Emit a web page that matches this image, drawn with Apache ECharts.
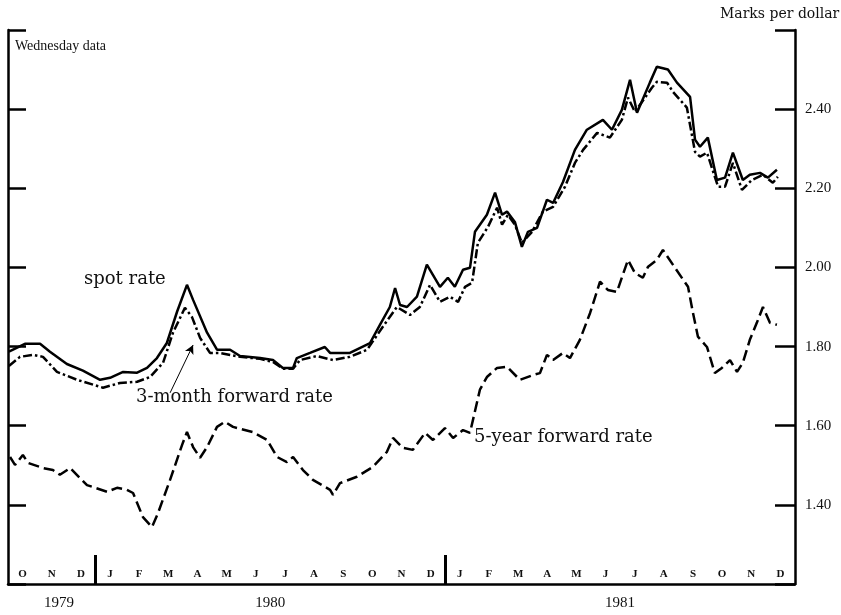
<!DOCTYPE html>
<html>
<head>
<meta charset="utf-8">
<script src="https://cdn.jsdelivr.net/npm/echarts@6/dist/echarts.min.js"></script>
<style>
html, body { margin: 0; background: #fff; }
#main { width: 841px; height: 615px; }
</style>
</head>
<body>
<div id="main"></div>
<script>
// x = months since 1 Oct 1979, y = marks per dollar (Wednesday data)
var monthLabels = ['O','N','D','J','F','M','A','M','J','J','A','S','O','N','D','J','F','M','A','M','J','J','A','S','O','N','D'];
var yearLabels = ['1979', '1980', '1981'];
var yearTickAt = [3, 15];        // month index where a new year starts
var yearLabelAt = [1.75, 9, 21];  // where the year captions sit

var spotX = [0.03,0.58,1.10,1.44,2.02,2.57,3.16,3.50,3.95,4.43,4.77,5.11,5.45,5.80,6.14,6.35,6.83,7.17,7.62,7.96,8.65,9.09,9.43,9.78,9.91,10.36,10.87,11.05,11.73,12.42,12.76,13.10,13.28,13.45,13.69,14.03,14.37,14.82,15.09,15.33,15.61,15.85,16.02,16.43,16.71,16.95,17.12,17.39,17.63,17.84,18.15,18.49,18.70,19.04,19.45,19.86,20.41,20.72,21.06,21.34,21.58,22.02,22.26,22.64,22.95,23.40,23.57,23.74,24.01,24.32,24.60,24.87,25.21,25.45,25.80,26.07,26.38];
var spotY = [1.787,1.807,1.807,1.787,1.756,1.739,1.716,1.721,1.736,1.734,1.746,1.771,1.809,1.888,1.956,1.918,1.835,1.792,1.792,1.776,1.771,1.766,1.746,1.746,1.771,1.784,1.799,1.784,1.784,1.809,1.855,1.900,1.948,1.905,1.900,1.926,2.007,1.951,1.974,1.951,1.994,1.999,2.090,2.133,2.189,2.133,2.141,2.115,2.052,2.090,2.100,2.171,2.163,2.216,2.297,2.348,2.373,2.348,2.398,2.474,2.391,2.467,2.507,2.500,2.467,2.431,2.323,2.305,2.328,2.221,2.227,2.290,2.221,2.234,2.239,2.227,2.247];

var fwd3mX = [0.03,0.41,0.86,1.20,1.68,2.37,3.26,3.84,4.43,4.87,5.32,5.66,6.07,6.31,6.59,6.93,7.27,7.96,8.65,9.09,9.43,9.78,10.02,10.60,11.15,11.73,12.32,12.86,13.34,13.79,14.13,14.48,14.82,15.16,15.44,15.68,15.92,16.12,16.47,16.78,16.95,17.15,17.39,17.63,17.98,18.35,18.70,19.11,19.45,19.73,20.21,20.65,21.06,21.27,21.51,22.09,22.26,22.61,22.81,23.29,23.57,23.74,23.98,24.36,24.60,24.87,25.18,25.52,25.90,26.24,26.41];
var fwd3mY = [1.751,1.774,1.779,1.774,1.736,1.716,1.696,1.708,1.711,1.723,1.759,1.835,1.898,1.875,1.822,1.784,1.784,1.774,1.769,1.761,1.744,1.744,1.766,1.776,1.766,1.774,1.792,1.850,1.900,1.880,1.900,1.956,1.913,1.926,1.913,1.951,1.961,2.062,2.103,2.151,2.108,2.133,2.108,2.062,2.090,2.141,2.153,2.204,2.264,2.297,2.340,2.328,2.373,2.429,2.393,2.454,2.469,2.467,2.444,2.404,2.292,2.280,2.290,2.204,2.204,2.264,2.196,2.221,2.234,2.214,2.229];

var fwd5yX = [0.07,0.24,0.51,0.69,1.20,1.54,1.78,2.13,2.71,3.40,3.74,4.08,4.29,4.63,4.94,5.15,5.56,5.97,6.14,6.35,6.59,6.83,7.17,7.44,7.72,8.40,8.89,9.23,9.57,9.78,10.12,10.46,11.05,11.15,11.39,11.97,12.52,13.00,13.21,13.55,13.89,14.31,14.58,14.99,15.27,15.61,15.85,16.19,16.43,16.78,17.12,17.56,18.01,18.25,18.49,18.70,19.04,19.28,19.62,19.97,20.31,20.58,20.89,21.27,21.51,21.78,21.96,22.26,22.47,22.81,23.33,23.50,23.67,23.98,24.25,24.49,24.77,25.01,25.21,25.45,25.69,25.90,26.14,26.38];
var fwd5yY = [1.521,1.501,1.526,1.506,1.493,1.488,1.476,1.493,1.450,1.433,1.443,1.438,1.430,1.369,1.344,1.380,1.463,1.551,1.584,1.546,1.519,1.546,1.597,1.610,1.597,1.584,1.564,1.521,1.508,1.521,1.488,1.463,1.438,1.425,1.455,1.471,1.496,1.534,1.569,1.544,1.539,1.582,1.564,1.594,1.569,1.589,1.582,1.691,1.723,1.746,1.749,1.716,1.728,1.733,1.779,1.766,1.784,1.771,1.817,1.885,1.964,1.943,1.938,2.019,1.986,1.974,2.002,2.019,2.044,2.007,1.951,1.885,1.825,1.799,1.733,1.746,1.766,1.736,1.759,1.817,1.860,1.900,1.860,1.855];

// arrow from the "3-month forward rate" caption to its line
var arrowFrom = [5.56, 1.683];
var arrowTo = [6.35, 1.804];

var serif = '"Liberation Serif", "DejaVu Serif", serif';
var wideSerif = '"DejaVu Serif", serif';

function pairs(xs, ys) {
    return xs.map(function (x, i) { return [x, ys[i]]; });
}

var chart = echarts.init(document.getElementById('main'));

var option = {
    animation: false,
    backgroundColor: '#fff',
    grid: { left: 8, right: 46, top: 30, bottom: 31 },
    xAxis: [
        {
            type: 'value',
            min: 0,
            max: 27,
            position: 'bottom',
            splitLine: { show: false },
            axisLine: { lineStyle: { color: '#000', width: 2.5 } },
            axisTick: {
                customValues: yearTickAt,
                inside: true,
                length: 29,
                lineStyle: { color: '#000', width: 3 }
            },
            axisLabel: {
                customValues: yearLabelAt,
                formatter: function (v) {
                    return v < yearTickAt[0] ? yearLabels[0] : (v < yearTickAt[1] ? yearLabels[1] : yearLabels[2]);
                },
                margin: 12,
                color: '#111',
                fontFamily: serif,
                fontSize: 15
            }
        },
        {
            type: 'category',
            data: monthLabels,
            position: 'bottom',
            boundaryGap: true,
            axisLine: { show: false },
            axisTick: { inside: true, length: 8, interval: 0, lineStyle: { color: '#000', width: 2 } },
            axisLabel: {
                inside: true,
                interval: 0,
                margin: 4,
                color: '#111',
                fontFamily: serif,
                fontSize: 11,
                fontWeight: 'bold'
            }
        }
    ],
    yAxis: [
        {
            type: 'value',
            position: 'left',
            min: 1.2,
            max: 2.6,
            interval: 0.2,
            splitLine: { show: false },
            axisLine: { show: true, lineStyle: { color: '#000', width: 2.5 } },
            axisTick: { show: true, inside: true, length: 18, lineStyle: { color: '#000', width: 2.5 } },
            axisLabel: { show: false }
        },
        {
            type: 'value',
            position: 'right',
            min: 1.2,
            max: 2.6,
            interval: 0.2,
            splitLine: { show: false },
            axisLine: { show: true, lineStyle: { color: '#000', width: 2.5 } },
            axisTick: { show: true, inside: true, length: 20, lineStyle: { color: '#000', width: 2.5 } },
            axisLabel: {
                margin: 10,
                color: '#111',
                fontFamily: serif,
                fontSize: 15,
                formatter: function (v) {
                    return (v < 1.3 || v > 2.5) ? '' : v.toFixed(2);
                }
            }
        }
    ],
    graphic: [
        { type: 'text', left: 720, top: 7, style: { text: 'Marks per dollar', font: '14px ' + wideSerif, fill: '#111' } },
        { type: 'text', left: 15, top: 39, style: { text: 'Wednesday data', font: '14px ' + serif, fill: '#111' } },
        { type: 'text', left: 84, top: 270, style: { text: 'spot rate', font: '18px ' + wideSerif, fill: '#111' } },
        { type: 'text', left: 136, top: 388, style: { text: '3-month forward rate', font: '18px ' + wideSerif, fill: '#111' } },
        { type: 'text', left: 474, top: 428, style: { text: '5-year forward rate', font: '18px ' + wideSerif, fill: '#111' } }
    ],
    series: [
        {
            name: 'spot rate',
            type: 'line',
            data: pairs(spotX, spotY),
            showSymbol: false,
            symbol: 'none',
            lineStyle: { color: '#000', width: 2.5, type: 'solid' },
            z: 3
        },
        {
            name: '3-month forward rate',
            type: 'line',
            data: pairs(fwd3mX, fwd3mY),
            showSymbol: false,
            symbol: 'none',
            lineStyle: { color: '#000', width: 2.5, type: [9, 3, 2.5, 3] },
            markLine: {
                silent: true,
                symbol: ['none', 'arrow'],
                symbolSize: [7, 9],
                label: { show: false },
                lineStyle: { color: '#000', width: 1, type: 'solid' },
                data: [[{ coord: arrowFrom }, { coord: arrowTo }]]
            },
            z: 2
        },
        {
            name: '5-year forward rate',
            type: 'line',
            data: pairs(fwd5yX, fwd5yY),
            showSymbol: false,
            symbol: 'none',
            lineStyle: { color: '#000', width: 2.5, type: [11, 5] },
            z: 2
        }
    ]
};

chart.setOption(option);
</script>
</body>
</html>
